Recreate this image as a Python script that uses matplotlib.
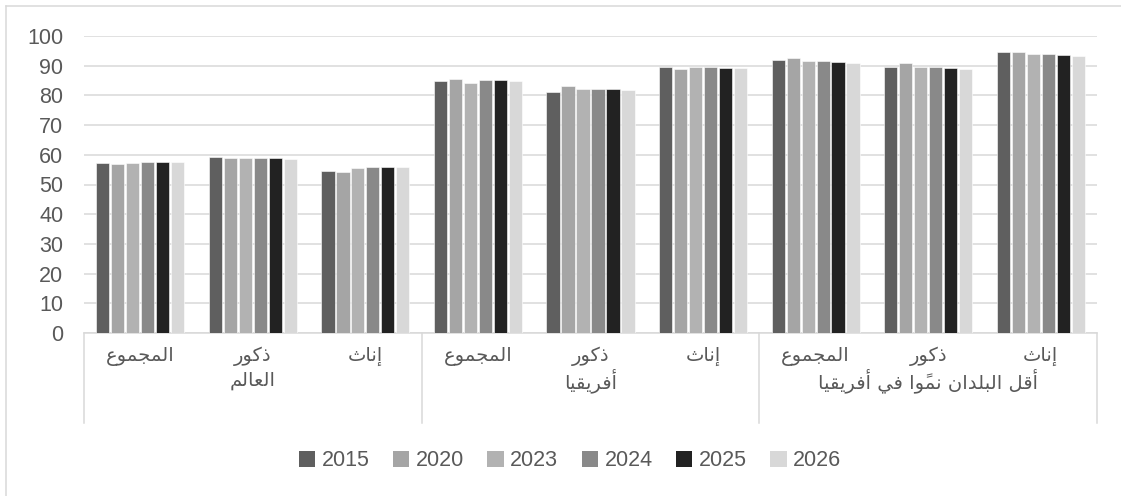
import matplotlib
matplotlib.use('Agg')
import matplotlib.pyplot as plt
from matplotlib.lines import Line2D
from matplotlib.patches import Patch
import numpy as np

# البيانات
years = ['2015', '2020', '2023', '2024', '2025', '2026']
regions = ['العالم', 'أفريقيا', 'أقل البلدان نموًا في أفريقيا']
subgroups = ['المجموع', 'ذكور', 'إناث']
v2015 = [57.3, 59.2, 54.7, 84.9, 81.2, 89.7, 91.9, 89.7, 94.6]
v2020 = [56.9, 59.0, 54.1, 85.6, 83.3, 89.0, 92.5, 90.8, 94.6]
v2023 = [57.4, 58.9, 55.5, 84.3, 82.2, 89.4, 91.6, 89.5, 94.1]
v2024 = [57.7, 58.9, 55.9, 85.2, 82.2, 89.4, 91.5, 89.4, 93.9]
v2025 = [57.6, 58.9, 55.9, 85.2, 82.0, 89.3, 91.2, 89.1, 93.7]
v2026 = [57.5, 58.7, 55.9, 85.0, 81.9, 89.1, 90.9, 88.8, 93.4]
colors = ['#5f5f5f', '#a5a5a5', '#b2b2b2', '#898989', '#222222', '#d8d8d8']

# أشكال الحروف (معزول، نهائي، ابتدائي، وسطي)
FORMS = {
    'ا': (0xFE8D, 0xFE8E, None, None),
    'أ': (0xFE83, 0xFE84, None, None),
    'إ': (0xFE87, 0xFE88, None, None),
    'ب': (0xFE8F, 0xFE90, 0xFE91, 0xFE92),
    'ث': (0xFE99, 0xFE9A, 0xFE9B, 0xFE9C),
    'ج': (0xFE9D, 0xFE9E, 0xFE9F, 0xFEA0),
    'د': (0xFEA9, 0xFEAA, None, None),
    'ذ': (0xFEAB, 0xFEAC, None, None),
    'ر': (0xFEAD, 0xFEAE, None, None),
    'ع': (0xFEC9, 0xFECA, 0xFECB, 0xFECC),
    'ف': (0xFED1, 0xFED2, 0xFED3, 0xFED4),
    'ق': (0xFED5, 0xFED6, 0xFED7, 0xFED8),
    'ك': (0xFED9, 0xFEDA, 0xFEDB, 0xFEDC),
    'ل': (0xFEDD, 0xFEDE, 0xFEDF, 0xFEE0),
    'م': (0xFEE1, 0xFEE2, 0xFEE3, 0xFEE4),
    'ن': (0xFEE5, 0xFEE6, 0xFEE7, 0xFEE8),
    'و': (0xFEED, 0xFEEE, None, None),
    'ي': (0xFEF1, 0xFEF2, 0xFEF3, 0xFEF4),
}
MARKS = {'\u064b'}


def shape(text):
    # تجميع الحروف مع الحركات
    clusters = []
    for ch in text:
        if ch in MARKS and clusters:
            clusters[-1] += ch
        else:
            clusters.append(ch)
    out = []
    for i, cl in enumerate(clusters):
        base = cl[0]
        if base not in FORMS:
            out.append(cl)
            continue
        iso, fin, ini, med = FORMS[base]
        prev = clusters[i - 1][0] if i > 0 else None
        nxt = clusters[i + 1][0] if i + 1 < len(clusters) else None
        jp = prev in FORMS and FORMS[prev][2] is not None
        jn = nxt in FORMS and ini is not None
        if jp and jn:
            g = med
        elif jp:
            g = fin
        elif jn:
            g = ini
        else:
            g = iso
        out.append(chr(g) + cl[1:])
    return ''.join(out[::-1])


fig = plt.figure(figsize=(11.21, 4.96), dpi=100)
ax = fig.add_axes([84 / 1121, 1 - 333 / 496, (1097 - 84) / 1121, 297 / 496])

series = [v2015, v2020, v2023, v2024, v2025, v2026]
x = np.arange(len(v2015))
slot = 0.133
for i, (vals, c) in enumerate(zip(series, colors)):
    ax.bar(x + (i - 2.5) * slot, vals, width=slot * 0.88, color=c,
           edgecolor='white', linewidth=0.4, zorder=3)

ax.set_xlim(-0.5, len(x) - 0.5)
ax.set_ylim(0, 100)
ax.set_yticks(range(0, 101, 10))
ax.grid(axis='y', color='#d9d9d9', linewidth=1.1, zorder=0)
ax.tick_params(axis='y', length=0, pad=15, labelsize=15.5, labelcolor='#595959')
ax.tick_params(axis='x', length=0, labelbottom=False)
for lbl in ax.get_yticklabels():
    lbl.set_fontfamily('Liberation Sans')
for s in ['left', 'right', 'top']:
    ax.spines[s].set_visible(False)
ax.spines['bottom'].set_color('#d9d9d9')
ax.spines['bottom'].set_linewidth(1.1)

tr = ax.get_xaxis_transform()
for k in range(len(x)):
    ax.text(k, -0.078, shape(subgroups[k % 3]), transform=tr, ha='center', va='center',
            fontsize=14, color='#595959', family='DejaVu Sans')
for g, name in enumerate(regions):
    ax.text(3 * g + 1, -0.16, shape(name), transform=tr, ha='center', va='center',
            fontsize=14, color='#595959', family='DejaVu Sans')
for xb in [-0.5, 2.5, 5.5, 8.5]:
    ax.add_line(Line2D([xb, xb], [0, -90 / 297], transform=tr, color='#d9d9d9',
                       linewidth=1.1, clip_on=False))

handles = [Patch(facecolor=c, edgecolor='none') for c in colors]
fig.legend(handles, years, loc='center', bbox_to_anchor=(570 / 1121, 1 - 461 / 496),
           ncol=6, frameon=False, handlelength=0.75, handleheight=0.75,
           handletextpad=0.3, columnspacing=1.1,
           prop={'family': 'Liberation Sans', 'size': 15.5}, labelcolor='#595959')

# إطار الرسم
fig.add_artist(Line2D([6 / 1121, 1], [1 - 6 / 496, 1 - 6 / 496], transform=fig.transFigure,
                      color='#d9d9d9', linewidth=1.1))
fig.add_artist(Line2D([6 / 1121, 6 / 1121], [0, 1 - 6 / 496], transform=fig.transFigure,
                      color='#d9d9d9', linewidth=1.1))

fig.savefig('out.png', dpi=100, facecolor='white')
